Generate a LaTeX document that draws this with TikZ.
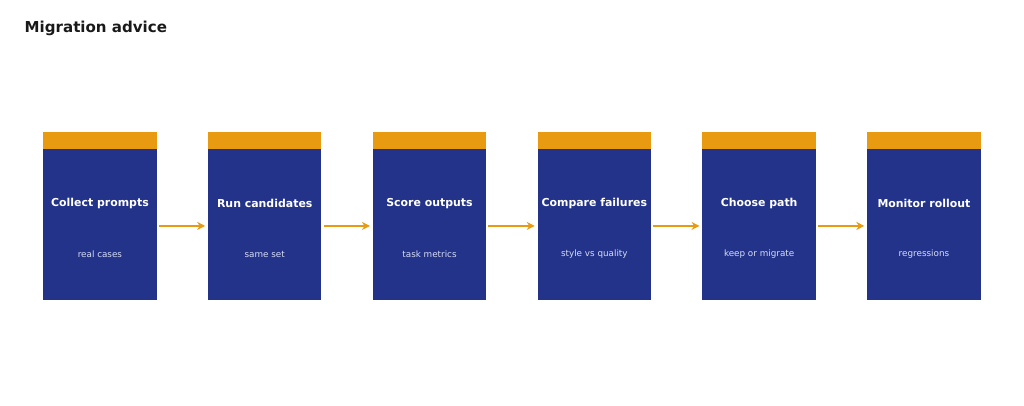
\documentclass[tikz,border=0pt]{standalone}
\usepackage{fontspec}
\setmainfont{DejaVu Sans}
\usetikzlibrary{positioning,arrows.meta}
\definecolor{stepblue}{HTML}{23338A}
\definecolor{steporange}{HTML}{E89A10}
\definecolor{subtext}{HTML}{D6DCF5}
\tikzset{
    stage/.style={fill=stepblue, minimum width=85pt, minimum height=113pt, inner sep=0pt, anchor=north west},
    band/.style={fill=steporange, minimum width=85pt, minimum height=12.75pt, inner sep=0pt, anchor=south},
    stage title/.style={text=white, font=\bfseries\fontsize{8.2}{10}\selectfont},
    stage note/.style={text=subtext, font=\fontsize{6.6}{8}\selectfont},
    flow/.style={steporange, line width=1.6pt, -{Stealth[length=6pt,width=6pt]}}
}
\begin{document}
\begin{tikzpicture}[x=0.75pt,y=-0.75pt]
    \useasboundingbox (0,0) rectangle (1024,405);
    \node[anchor=west, font=\bfseries\fontsize{11.3}{13}\selectfont, text={black!90}] (title) at (20,28) {Migration advice};

    % --- Stages ---
    \foreach \i/\head/\note in {1/Collect prompts/real cases, 2/Run candidates/same set,
        3/Score outputs/task metrics, 4/Compare failures/style vs quality,
        5/Choose path/keep or migrate, 6/Monitor rollout/regressions} {
        \node (b\i) [stage] at ({43+164.8*(\i-1)},149) {};
        \node (o\i) [band] at (b\i.north) {};
        \node (t\i) [stage title] at ([yshift=-41pt]b\i.north) {\head};
        \node (n\i) [stage note] at ([yshift=-79pt]b\i.north) {\note};
    }

    % --- Arrows ---
    \foreach \i [evaluate=\i as \j using int(\i+1)] in {1,...,5}
        \draw[flow] ([xshift=1.5pt,yshift=-1pt]b\i.east) -- ([xshift=-2pt,yshift=-1pt]b\j.west);
\end{tikzpicture}
\end{document}
